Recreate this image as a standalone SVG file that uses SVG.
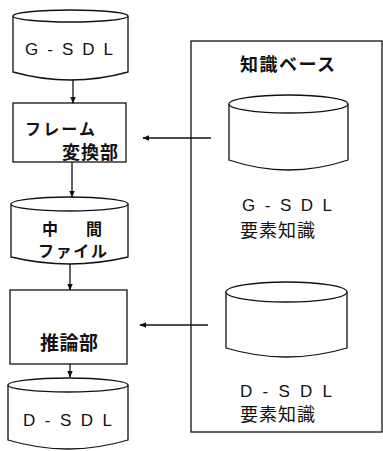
<svg xmlns="http://www.w3.org/2000/svg" width="383" height="451" viewBox="0 0 383 451">
<defs>
<style>
.s{fill:none;stroke:#111;stroke-width:1.3}
.c{fill:#fff;stroke:#111;stroke-width:1.3}
.t{font-family:"Noto Sans CJK JP","Liberation Sans",sans-serif;fill:#111;dominant-baseline:central}
.j{font-weight:bold}
.l{font-family:"Liberation Sans","DejaVu Sans",sans-serif;fill:#111;dominant-baseline:central;font-size:17px}
</style>
<marker id="ah" viewBox="0 0 10 10" refX="9" refY="5" markerWidth="7" markerHeight="7" orient="auto" markerUnits="userSpaceOnUse">
<path d="M0,1 L10,5 L0,9 z" fill="#111"/>
</marker>
</defs>
<g id="kb">
<rect x="191" y="41" width="191" height="391" class="s"/>
<text x="240" y="63" class="t j" font-size="18" textLength="95" lengthAdjust="spacing">知識ベース</text>
</g>
<g id="gsdl">
<path class="c" d="M13,16 L13,72 Q70.5,88 128,72 L128,16"/>
<ellipse cx="70.5" cy="16" rx="57.5" ry="6" class="c"/>
<text x="25" y="49" class="l" textLength="88" lengthAdjust="spacing">G-SDL</text>
</g>
<g id="frame">
<rect x="13" y="103" width="113" height="59" class="c"/>
<text x="25" y="128" class="t j" font-size="16" textLength="70" lengthAdjust="spacing">フレーム</text>
<text x="62" y="151" class="t j" font-size="18" textLength="56" lengthAdjust="spacing">変換部</text>
</g>
<g id="mid">
<path class="c" d="M11,204 L11,257 Q69.5,271 128,257 L128,204"/>
<ellipse cx="69.5" cy="204" rx="58.5" ry="7" class="c"/>
<text x="42" y="228" class="t j" font-size="16" textLength="60" lengthAdjust="spacing">中　間</text>
<text x="38" y="250" class="t j" font-size="16" textLength="69" lengthAdjust="spacing">ファイル</text>
</g>
<g id="infer">
<rect x="10" y="290" width="117" height="74" class="c"/>
<text x="40" y="341" class="t j" font-size="19" textLength="58" lengthAdjust="spacing">推論部</text>
</g>
<g id="dsdl">
<path class="c" d="M8,385 L8,440 Q68,458 128,440 L128,385"/>
<ellipse cx="68" cy="385" rx="60" ry="7" class="c"/>
<text x="23" y="420" class="l" font-size="18" textLength="89" lengthAdjust="spacing">D-SDL</text>
</g>
<g id="kb1">
<path class="c" d="M229,104 L229,160 Q288.5,180 348,160 L348,104"/>
<ellipse cx="288.5" cy="104" rx="59.5" ry="9" class="c"/>
<text x="242" y="205" class="l" font-size="18" textLength="90" lengthAdjust="spacing">G-SDL</text>
<text x="240" y="229" class="t" font-size="18" textLength="75" lengthAdjust="spacing">要素知識</text>
</g>
<g id="kb2">
<path class="c" d="M226,292 L226,348 Q286.5,366 347,348 L347,292"/>
<ellipse cx="286.5" cy="292" rx="60.5" ry="10" class="c"/>
<text x="240" y="391" class="l" font-size="15" textLength="92" lengthAdjust="spacing">D-SDL</text>
<text x="240" y="413" class="t" font-size="18" textLength="75" lengthAdjust="spacing">要素知識</text>
</g>
<g id="connectors">
<line x1="73" y1="80" x2="73" y2="103" class="s" marker-end="url(#ah)"/>
<line x1="72" y1="162" x2="72" y2="197" class="s" marker-end="url(#ah)"/>
<line x1="70" y1="264" x2="70" y2="290" class="s" marker-end="url(#ah)"/>
<line x1="70" y1="364" x2="70" y2="377" class="s" marker-end="url(#ah)"/>
<line x1="211" y1="138" x2="143" y2="138" class="s" marker-end="url(#ah)"/>
<line x1="208" y1="325" x2="140" y2="325" class="s" marker-end="url(#ah)"/>
</g>
</svg>
